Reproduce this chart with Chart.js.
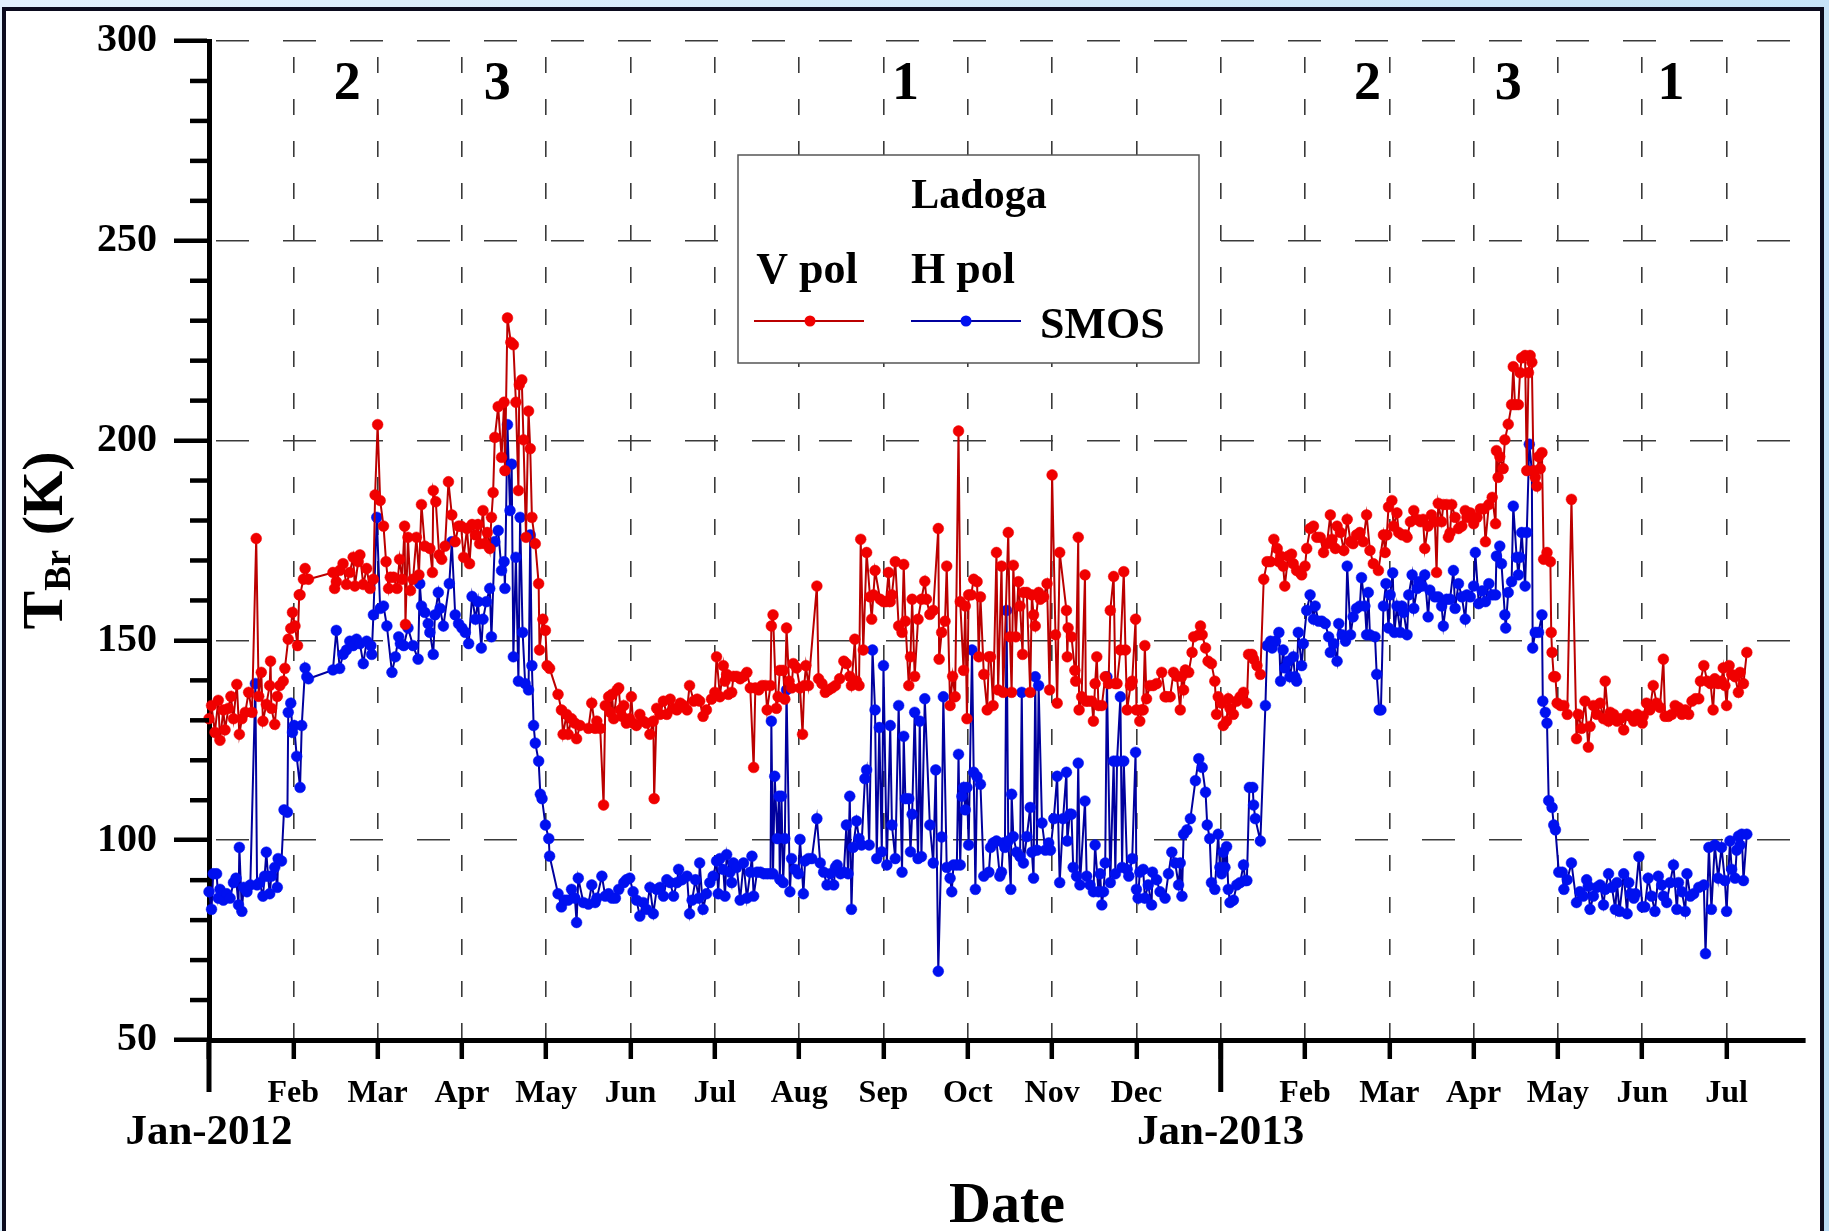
<!DOCTYPE html>
<html>
<head>
<meta charset="utf-8">
<script src="https://cdn.jsdelivr.net/npm/chart.js@4.4.1/dist/chart.umd.min.js"></script>
<style>
  html, body { margin: 0; padding: 0; background: #fff; }
  canvas { display: block; }
</style>
</head>
<body>
<canvas id="tbChart" width="1829" height="1231"></canvas>
<script>
// x values are months counted from 1 Jan 2012 (12 = 1 Jan 2013)
const monthNames = ['Jan', 'Feb', 'Mar', 'Apr', 'May', 'Jun', 'Jul', 'Aug', 'Sep', 'Oct', 'Nov', 'Dec'];
const firstYear = 2012;
const phaseLabels = ['2', '3', '1', '2', '3', '1'];
const phaseMonth = [1.64, 3.42, 8.26, 13.74, 15.41, 17.34];
const legendTitle = 'Ladoga';
const seriesNames = ['V pol', 'H pol'];
const sourceName = 'SMOS';

// [month, Tb (K)]
const vPol = [
  [0.00,130.4],[0.03,133.7],[0.07,127],[0.11,135],[0.13,125],[0.17,132.6],[0.19,127.6],[0.23,133],[0.26,136],[0.29,130.4],
  [0.33,139],[0.36,126.5],[0.39,130.4],[0.43,132],[0.47,137],[0.51,132],[0.56,175.5],[0.59,136],[0.62,142],[0.64,129.8],
  [0.68,134],[0.72,138.7],[0.73,144.8],[0.74,133],[0.78,129],[0.81,136],[0.84,138.7],[0.88,139.8],[0.90,143],[0.94,150.3],
  [0.97,153],[0.99,157],[1.02,153.6],[1.05,148.7],[1.07,161.4],[1.08,161.4],[1.12,165.3],[1.14,168],[1.18,165.3],[1.47,167],
  [1.49,163],[1.51,164.7],[1.55,167.5],[1.59,169.2],[1.63,164],[1.67,167],[1.71,170.8],[1.73,163.6],[1.77,169.7],[1.79,171.4],
  [1.83,164],[1.87,168],[1.91,163],[1.95,165.3],[1.97,186.4],[2.00,204],[2.03,185],[2.07,178.6],[2.10,169.7],[2.13,163],
  [2.15,165.8],[2.19,165.8],[2.23,163],[2.26,170.3],[2.29,165.3],[2.32,178.6],[2.33,154],[2.36,175.8],[2.39,162.5],[2.42,165.3],
  [2.46,175.8],[2.49,166.4],[2.52,184],[2.56,173.6],[2.62,173],[2.65,167],[2.66,187.5],[2.69,184.7],[2.73,171.4],[2.76,170.3],
  [2.80,173.6],[2.84,189.7],[2.88,181.4],[2.92,174.7],[2.96,178.6],[2.99,178.6],[3.02,170.8],[3.06,178],[3.09,169.2],[3.12,179],
  [3.16,176.4],[3.19,179],[3.21,174.2],[3.25,182.5],[3.27,174.2],[3.30,177],[3.33,173],[3.35,180.8],[3.37,187],[3.39,200.8],
  [3.43,208.5],[3.47,195.8],[3.50,209.6],[3.51,192.5],[3.54,230.7],[3.58,224.6],[3.61,224],[3.64,209.6],[3.67,187.5],[3.68,214],
  [3.71,215.2],[3.73,200.2],[3.76,175.8],[3.79,207.4],[3.81,198],[3.83,180.8],[3.87,174.2],[3.91,164.2],[3.92,147.6],[3.96,155.3],
  [3.99,152.5],[4.01,143.7],[4.04,143],[4.14,136.5],[4.18,132.6],[4.20,126.5],[4.24,131.5],[4.26,126.5],[4.30,130.4],[4.34,129.3],
  [4.36,125.4],[4.40,128.7],[4.50,128],[4.54,134.3],[4.58,128],
  [4.60,129.8],[4.64,128],[4.68,108.8],[4.70,133.7],[4.74,135.9],[4.76,132],[4.78,136.5],[4.80,130.4],[4.84,137.6],[4.86,138.1],
  [4.88,132.6],[4.90,131],[4.92,133.7],[4.95,129.3],[4.99,130.4],[5.01,135.9],[5.03,129.3],[5.07,128.7],[5.11,131.5],[5.15,129.8],
  [5.19,129.3],[5.23,126.5],[5.27,129.8],[5.28,110.4],[5.31,133],[5.35,131.5],[5.39,134.8],[5.43,131.5],[5.47,135.3],[5.51,133],
  [5.55,132.6],[5.59,134.3],[5.63,133.7],[5.67,132.6],[5.70,138.7],[5.75,134.8],[5.79,135.3],[5.82,134.8],[5.86,131],[5.90,132.6],
  [5.96,135.3],[6.00,137],[6.02,145.9],[6.06,135.9],[6.10,143.7],[6.12,139.8],[6.14,141.5],[6.16,136.5],[6.20,137],[6.22,141],
  [6.26,141],[6.30,140.4],[6.34,141],[6.38,142],[6.42,138.1],[6.46,118.2],[6.48,138.1],[6.52,137.6],[6.56,138.7],[6.60,138.7],
  [6.62,132.6],[6.66,138.7],[6.67,153.6],[6.69,156.4],[6.73,133],[6.75,135.9],[6.77,142.5],[6.81,142.5],[6.83,135.3],[6.85,153.1],
  [6.88,139.8],[6.91,138.1],[6.93,144.2],[6.97,143.1],[7.01,138.1],[7.04,126.5],[7.06,138.7],[7.08,143.7],[7.11,138.7],[7.21,163.6],
  [7.23,140.4],[7.27,139.2],[7.31,137],[7.35,137.6],[7.39,138.1],[7.43,138.7],[7.48,140.4],[7.53,144.8],[7.56,144.2],[7.60,141],
  [7.62,138.7],[7.66,150.3],[7.68,139.8],[7.71,138.7],[7.73,175.3],[7.76,147.6],[7.80,172],[7.84,160.9],[7.86,155.3],[7.88,161.4],
  [7.90,167.5],[7.96,160.3],[8.00,159.7],[8.03,159.7],[8.06,167],[8.08,159.7],[8.10,161.4],[8.14,169.7],[8.18,153.6],[8.22,152],
  [8.24,169],[8.26,154.8],[8.30,138.7],[8.32,145.9],[8.34,160.3],[8.37,141],[8.41,155.3],[8.45,160.3],[8.49,164.8],[8.51,160.3],
  [8.55,156.5],[8.59,157.5],[8.65,178],[8.66,145.3],[8.69,152],[8.73,154.8],[8.75,168.6],[8.79,133.7],[8.82,141],[8.85,135.9],
  [8.89,202.4],[8.91,159.7],[8.95,142.5],[8.97,158.6],[8.99,130.4],[9.01,161.4],[9.04,161.4],[9.07,165.3],[9.11,164.7],[9.13,145.9],
  [9.15,160.9],[9.19,141.5],[9.23,132.6],[9.25,145.9],
  [9.27,145.9],[9.30,133.7],[9.34,172],[9.36,137.6],[9.40,168.6],[9.42,137],[9.48,177],[9.50,150.9],[9.52,137],[9.54,168.8],
  [9.57,150.9],[9.60,164.7],[9.62,158.6],[9.65,146.5],[9.66,162],[9.70,162],[9.74,137],[9.76,161.4],[9.78,156.4],[9.80,153.6],
  [9.84,162],[9.86,160.3],[9.90,160.9],[9.94,164.2],[9.97,137.6],[10.00,191.4],[10.04,151.4],[10.06,134.3],[10.09,172],[10.17,157.5],
  [10.18,145.9],[10.19,153.1],[10.23,150.9],[10.27,142.5],[10.28,139.8],[10.31,175.8],[10.32,132.6],[10.35,135.9],[10.39,166.4],[10.40,134.8],
  [10.43,134.8],[10.47,134.8],[10.49,129.8],[10.51,139.2],[10.53,145.9],[10.55,133.7],[10.59,133.7],[10.63,140.9],[10.67,139.2],[10.69,157.5],
  [10.73,166],[10.75,139.2],[10.77,139.2],[10.81,147.6],[10.85,167.2],[10.87,147.6],[10.89,132.6],[10.93,138.7],[10.95,139.8],[10.99,155.3],
  [11.00,132.6],[11.04,129.8],[11.06,132.6],[11.08,132.6],[11.10,148.7],[11.12,135.4],[11.16,138.7],[11.20,138.7],[11.24,139.2],[11.30,142],
  [11.34,135.9],[11.36,135.9],[11.40,135.9],[11.44,142],[11.48,141],[11.52,132.6],[11.54,141],[11.56,137.6],[11.58,142.6],[11.62,142],
  [11.66,147],[11.68,150.9],[11.74,151.4],[11.76,153.6],[11.78,151.4],[11.82,148.1],[11.85,144.8],[11.89,144.2],[11.93,139.8],[11.95,131.5],
  [11.97,135.9],[12.01,134.3],[12.03,128.7],[12.07,129.8],[12.09,135.4],[12.11,133],[12.15,131.5],[12.19,134.8],[12.23,135.9],[12.27,137],
  [12.31,134.3],[12.33,146.5],[12.37,146.5],[12.39,145.3],[12.43,143.7],[12.47,141.5],[12.51,165.3],[12.55,169.7],[12.59,169.7],[12.63,175.3],
  [12.67,173],[12.69,169.7],[12.71,171.1],[12.74,168.6],[12.76,163.6],[12.80,171.1],[12.84,171.6],[12.86,169.2],[12.90,167.5],[12.94,167],
  [12.96,166.4],[13.00,168.6],[13.02,173],[13.06,178],[13.10,178.6],[13.14,175.8],[13.18,175.8],[13.22,172],[13.26,174.2],[13.30,181.4],
  [13.32,175.3],[13.36,173],[13.38,178.6],[13.42,177],[13.46,172.5],[13.50,180.3],[13.54,174.7],[13.57,174.2],[13.61,176.4],[13.65,177],
  [13.69,174.7],[13.73,181.4],[13.77,172.5],[13.81,169.2],[13.87,167.5],
  [13.93,176.4],[13.95,172],[13.97,176.4],[13.99,183.4],[14.03,185],[14.05,178.6],[14.09,181.9],[14.11,177],[14.15,176.4],[14.19,176.4],
  [14.21,175.8],[14.25,179.7],[14.29,182.5],[14.33,180.3],[14.37,179.7],[14.40,180.3],[14.42,173],[14.46,178.6],[14.50,181.4],[14.54,179.7],
  [14.56,167],[14.58,184.3],[14.62,179.7],[14.64,184],[14.68,184],[14.70,175.8],[14.72,176.9],[14.74,184],[14.78,180.8],[14.82,178],
  [14.86,178.6],[14.90,182.5],[14.92,180.8],[14.96,181.9],[15.00,179.2],[15.04,180.8],[15.08,182.9],[15.12,182.9],[15.14,174.7],[15.18,184],
  [15.22,185.8],[15.26,179.2],[15.27,197.5],[15.29,190.8],[15.31,196],[15.35,193],[15.37,200.2],[15.41,204.1],[15.45,209],[15.47,218.5],
  [15.49,209],[15.53,209],[15.55,217],[15.57,220.7],[15.61,221.3],[15.63,192.5],[15.65,217],[15.67,221.3],[15.69,219.6],[15.71,192.5],
  [15.73,190.8],[15.75,188.6],[15.77,196],[15.79,193],[15.81,197],[15.83,170.3],[15.87,172],[15.91,169.7],[15.92,152],[15.93,147],
  [15.95,140.9],[15.97,140.9],[15.99,134.3],[16.03,133.7],[16.07,133.7],[16.11,131.5],[16.16,185.3],[16.22,125.4],[16.24,131.5],[16.28,128],
  [16.32,134.8],[16.36,123.3],[16.38,128.5],[16.42,133.7],[16.46,131.5],[16.50,134.3],[16.54,130.4],[16.56,139.8],[16.60,129.8],[16.62,132],
  [16.66,131.5],[16.70,129.8],[16.74,130.4],[16.78,127.6],[16.82,131.5],[16.86,131],[16.90,129.8],[16.94,131.5],[17.00,129.3],[17.01,131],
  [17.05,134.3],[17.09,132.6],[17.13,138.7],[17.17,134.3],[17.21,133.2],[17.25,145.3],[17.27,131],[17.31,131],[17.35,131.5],[17.39,133.7],
  [17.43,133.2],[17.47,131.5],[17.51,132.6],[17.55,131.5],[17.59,134.8],[17.63,135.4],[17.67,135.4],[17.69,139.8],[17.73,143.7],[17.77,139.8],
  [17.81,139.2],[17.84,132.6],[17.86,140.4],[17.90,139.2],[17.94,139.8],[17.96,143.1],[17.98,138.7],[18.00,133.7],[18.03,143.7],[18.06,141.5],
  [18.10,140.9],[18.14,137],[18.16,142],[18.20,139.2],[18.24,147]
];

const hPol = [
  [0.00,87.1],[0.03,82.7],[0.05,91.6],[0.09,91.6],[0.11,85.5],[0.13,87.7],[0.17,85],[0.21,86.6],[0.25,85.5],[0.29,89.4],
  [0.32,90.5],[0.35,83.8],[0.36,98.2],[0.39,82.2],[0.41,88.2],[0.45,87.1],[0.49,88.8],[0.55,139.2],[0.57,88.8],[0.60,89.4],
  [0.64,86],[0.66,91],[0.68,97],[0.70,91],[0.72,86.6],[0.74,91],[0.78,93.2],[0.81,88.2],[0.82,95.4],[0.86,94.8],
  [0.89,107.6],[0.93,107],[0.94,132],[0.97,134.3],[0.99,127],[1.01,128.7],[1.04,121],[1.08,113.2],[1.10,128.7],[1.14,143.1],
  [1.16,140.9],[1.18,140.4],[1.47,142.6],[1.51,152.5],[1.55,143],[1.59,146.5],[1.63,147.6],[1.67,149.8],[1.71,148.7],[1.75,150.3],
  [1.79,149.2],[1.83,144.2],[1.87,149.8],[1.92,148.7],[1.93,146.5],[1.95,156.4],[1.99,180.8],[2.03,158],[2.07,158.6],[2.11,153.6],
  [2.17,142],[2.21,145.9],[2.25,150.9],[2.27,149.2],[2.31,148.7],[2.36,153.1],[2.42,148.7],[2.48,145.3],[2.50,164.2],[2.52,158.6],
  [2.56,157],[2.60,154.2],[2.62,152],[2.66,146.5],[2.68,156.4],[2.72,162],[2.74,158],[2.78,153.6],[2.85,164.2],[2.88,174.7],
  [2.92,156.4],[2.96,154.2],[3.00,153.1],[3.04,152],[3.08,149.2],[3.12,161],[3.16,155.3],[3.19,159.7],[3.23,148.1],[3.25,155.3],
  [3.29,159.7],[3.33,163],[3.35,150.9],[3.39,174.7],[3.43,177.5],[3.47,167.5],[3.50,169.7],[3.51,163],[3.54,204],[3.57,182.5],
  [3.59,194.1],[3.61,145.9],[3.64,170.8],[3.67,139.8],[3.69,180.8],[3.72,152],[3.75,139.2],[3.79,137.6],[3.81,176.4],[3.83,143.7],
  [3.85,128.7],[3.87,124.3],[3.91,119.8],[3.93,111.5],[3.95,110.4],[3.99,103.8],[4.03,100.4],[4.04,96],[4.14,86.6],[4.18,83.3],
  [4.22,85],[4.26,85],[4.30,87.7],[4.34,85.5],[4.36,79.4],[4.38,90.5],[4.44,84.4],[4.50,84],[4.54,88.8],[4.58,84.4],
  [4.60,85.5],[4.66,91],[4.70,86],[4.74,86.6],[4.78,85.5],[4.82,85.5],[4.86,87.7],[4.92,89.4],[4.95,90.1],[4.99,90.5],
  [5.03,87.1],[5.07,85],[5.11,81],[5.15,84.4],[5.19,82.7],[5.23,88.2],[5.27,81.6],[5.31,87.7],[5.35,88.2],[5.39,86],
  [5.43,90.1],[5.47,89.4],[5.51,86],[5.55,89.4],[5.57,92.7],[5.61,90.1],[5.67,91],[5.70,81.6],[5.73,85],[5.77,90.1],
  [5.81,85.5],[5.82,94.3],[5.86,82.7],[5.90,86.6],[5.94,89.4],[5.98,91],[6.02,94.8],[6.04,86.6],[6.06,95.4],[6.10,92.7],
  [6.12,86],[6.14,96.4],[6.18,92],[6.20,89.4],[6.22,94.3],[6.26,93.2],[6.30,85],[6.34,94.3],[6.38,85.5],[6.42,92],
  [6.44,96],[6.46,86],[6.50,92],[6.54,92],[6.58,91.6],[6.62,91.6],[6.66,91.6],[6.67,129.8],[6.69,91.6],[6.71,116],
  [6.74,100.4],[6.76,111],[6.77,90.2],[6.79,111],[6.81,89.4],[6.83,100.4],[6.85,137.6],[6.89,87.1],[6.91,95.4],[6.95,92.7],
  [6.99,91.6],[7.01,100.2],[7.05,86.6],[7.07,94.8],[7.11,95.4],[7.15,95.4],[7.21,105.4],[7.25,94.3],[7.29,92],[7.33,88.8],
  [7.37,91.6],[7.41,88.8],[7.43,93.2],[7.45,93.8],[7.49,91.6],[7.53,92],[7.56,103.8],[7.58,91.6],[7.60,111],[7.62,82.7],
  [7.64,98.2],[7.68,104.8],[7.71,100.4],[7.74,98.8],[7.78,115.4],[7.80,117.6],[7.83,98.8],[7.87,147.6],[7.90,132.6],[7.92,95.4],
  [7.95,128.2],[7.98,97.1],[8.00,143.7],[8.04,93.8],[8.08,128.7],[8.10,103.8],[8.14,95.4],[8.18,133.7],[8.22,92],[8.24,126],
  [8.26,110.4],[8.30,110.4],[8.32,97.1],[8.34,106.5],[8.37,132],[8.41,95.4],[8.43,129.8],[8.45,95.9],[8.49,135.4],[8.55,103.8],
  [8.59,94.3],[8.62,117.6],[8.65,67.2],[8.69,100.8],[8.71,135.9],[8.75,93.2],[8.79,90.5],[8.81,87.1],[8.83,93.8],[8.87,93.8],
  [8.89,121.5],[8.91,93.8],[8.93,111],[8.95,113.2],[8.97,107.6],[8.99,113.2],[9.01,98.8],[9.05,147.6],[9.07,117],[9.09,87.7],
  [9.11,115.9],[9.15,114],[9.19,91],[9.25,92],
  [9.27,98.2],[9.30,99.3],[9.34,99.8],[9.38,91],[9.40,92],[9.42,99.3],[9.44,98.2],[9.46,157.5],[9.48,99.8],[9.51,87.7],
  [9.52,111.5],[9.54,100.9],[9.58,97],[9.62,95.9],[9.64,137],[9.66,94.3],[9.70,100.9],[9.74,108.2],[9.76,97],[9.78,90.5],
  [9.80,140.9],[9.82,97.5],[9.84,138.7],[9.88,104.3],[9.92,97.5],[9.96,99.3],[9.98,97.5],[10.02,105.4],[10.06,116],[10.09,89.4],
  [10.13,105.4],[10.17,117],[10.18,99.8],[10.21,106.5],[10.23,106.5],[10.25,93.2],[10.29,91],[10.31,119.3],[10.33,88.8],[10.39,109.8],
  [10.41,91],[10.45,88.8],[10.49,87.1],[10.51,98.8],[10.55,87.1],[10.57,91.6],[10.59,83.8],[10.61,87.1],[10.63,94.3],[10.65,140.9],
  [10.69,89.4],[10.73,119.8],[10.75,91.6],[10.77,119.8],[10.81,135.9],[10.83,93.2],[10.85,119.8],[10.89,92.7],[10.91,91],[10.95,95.4],
  [10.99,122],[11.00,87.7],[11.02,85.5],[11.04,92],[11.08,92.7],[11.10,85.5],[11.14,88.8],[11.18,83.8],[11.19,92],[11.24,90.1],
  [11.28,87.1],[11.34,85.5],[11.38,91.6],[11.42,97],[11.46,94.3],[11.50,88.8],[11.52,94.3],[11.54,86],[11.56,101.5],[11.60,102.6],
  [11.64,105.4],[11.70,114.9],[11.74,120.4],[11.78,118.2],[11.82,112],[11.84,103.8],[11.87,100.4],[11.89,89.4],[11.93,87.7],[11.97,101.5],
  [11.99,93.2],[12.01,91.6],[12.03,97],[12.05,93.2],[12.07,98.4],[12.09,87.7],[12.11,84.4],[12.15,85],[12.19,88.8],[12.23,89.4],
  [12.27,93.8],[12.29,89.9],[12.31,89.9],[12.34,113.2],[12.38,113.2],[12.39,108.8],[12.41,105.4],[12.47,99.8],[12.53,133.7],[12.55,148.7],
  [12.59,149.8],[12.61,148.1],[12.65,149.8],[12.69,152],[12.71,139.8],[12.74,147.6],[12.76,143.1],[12.80,144.8],[12.82,140.9],[12.86,145.9],
  [12.88,140.9],[12.90,139.8],[12.92,152],[12.96,143.7],[12.98,149.2],[13.02,157.5],[13.06,161.4],[13.10,155.3],[13.12,158.6],[13.16,154.8],
  [13.20,154.8],[13.24,154.2],[13.28,150.9],[13.30,147],[13.34,149.2],[13.38,144.8],[13.40,154.2],[13.44,151.4],[13.48,149.8],[13.50,168.6],
  [13.54,151.4],[13.57,155.9],[13.61,158],[13.65,158.6],[13.67,165.7],[13.71,158.6],[13.73,151.4],[13.75,162],[13.77,151.4],[13.83,150.9],
  [13.85,141.5],[13.88,132.6],
  [13.90,132.6],[13.93,158.6],[13.96,164.2],[13.99,153.1],[14.01,161.4],[14.04,166.9],[14.06,152],[14.09,158.6],[14.13,152],[14.15,158.6],
  [14.17,157],[14.21,151.4],[14.23,161.4],[14.27,166.4],[14.29,158],[14.33,163],[14.35,164.7],[14.39,163.6],[14.42,166.4],[14.46,155.9],
  [14.48,162.6],[14.54,160.9],[14.58,160.9],[14.62,158.6],[14.64,153.6],[14.68,160.3],[14.72,160.3],[14.76,167.5],[14.78,158],[14.82,164.2],
  [14.86,160.9],[14.90,155.3],[14.92,161.4],[14.96,160.9],[15.00,163.6],[15.02,172],[15.06,159.2],[15.10,162.4],[15.14,159.7],[15.18,164.2],
  [15.22,161.4],[15.26,161.4],[15.27,171.1],[15.31,173.6],[15.33,169.2],[15.37,156.4],[15.38,153.1],[15.41,162],[15.45,164.7],[15.47,183.6],
  [15.51,170.8],[15.53,166.4],[15.55,170.8],[15.57,177],[15.61,163.6],[15.63,177],[15.66,199.1],[15.69,192.5],[15.70,148.1],[15.73,152],
  [15.77,152],[15.81,156.4],[15.82,134.8],[15.85,132],[15.87,129.3],[15.89,109.9],[15.93,108.2],[15.95,103.8],[15.97,102.6],[16.01,92],
  [16.05,92],[16.07,87.7],[16.11,90.1],[16.16,94.3],[16.22,84.4],[16.26,87.1],[16.30,86],[16.34,90.1],[16.36,88.5],[16.38,82.7],
  [16.42,86],[16.46,88.2],[16.50,88.8],[16.54,83.8],[16.56,87.7],[16.60,91.6],[16.64,88.2],[16.68,82.7],[16.70,89.4],[16.73,82.2],
  [16.78,91.6],[16.82,81.6],[16.84,89.4],[16.86,86.6],[16.90,85.5],[16.92,86.6],[16.96,95.9],[17.00,83.3],[17.03,83.3],[17.07,90.5],
  [17.11,86],[17.15,82.2],[17.19,91],[17.23,88.8],[17.25,86],[17.29,84.4],[17.33,89.4],[17.37,93.8],[17.41,82.7],[17.43,89.4],
  [17.47,87.1],[17.51,82.2],[17.53,91.6],[17.57,86],[17.61,86.6],[17.67,88.2],[17.73,88.8],[17.75,71.6],[17.79,98.2],[17.82,82.7],
  [17.86,98.8],[17.90,90.5],[17.94,98.2],[17.98,89.9],[18.00,82.2],[18.04,99.8],[18.06,92.7],[18.10,90.5],[18.12,97.5],[18.14,101],
  [18.16,98.8],[18.18,101.5],[18.20,89.9],[18.24,101.5]
];

const FONT = '"Liberation Serif", "Times New Roman", serif';
const RED_LINE = '#bb0000', RED_DOT = '#f00000';
const BLUE_LINE = '#00009e', BLUE_DOT = '#0010f0';

const decor = {
  id: 'decor',
  beforeDraw(chart) {
    const ctx = chart.ctx;
    const W = chart.width, H = chart.height;
    ctx.save();
    const g = ctx.createLinearGradient(0, 0, W, H);
    g.addColorStop(0, '#e2f0fd');
    g.addColorStop(1, '#b9dcf6');
    ctx.fillStyle = g;
    ctx.fillRect(0, 0, W, H);
    ctx.fillStyle = '#fff';
    ctx.fillRect(4, 9, 1818, H);
    ctx.strokeStyle = '#0b0b1e';
    ctx.lineWidth = 4;
    ctx.strokeRect(4, 9, 1818, H + 20);
    ctx.restore();
  },
  afterDraw(chart) {
    const { ctx, chartArea: a, scales: { x, y } } = chart;
    ctx.save();
    ctx.strokeStyle = '#000';

    // minor ticks on the Tb axis
    ctx.lineWidth = 4.5;
    for (let v = y.min + 10; v < y.max; v += 10) {
      if (v % 50 === 0) continue;
      const py = y.getPixelForValue(v);
      ctx.beginPath();
      ctx.moveTo(a.left - 19, py);
      ctx.lineTo(a.left, py);
      ctx.stroke();
    }

    // long ticks at each January
    ctx.lineWidth = 5;
    for (let m = 0; m <= x.max; m += 12) {
      const px = x.getPixelForValue(m);
      ctx.beginPath();
      ctx.moveTo(px, a.bottom);
      ctx.lineTo(px, a.bottom + 52);
      ctx.stroke();
    }

    ctx.fillStyle = '#000';

    // ice phase labels
    ctx.font = `bold 54px ${FONT}`;
    ctx.textAlign = 'center';
    ctx.textBaseline = 'alphabetic';
    phaseLabels.forEach((t, i) => {
      ctx.fillText(t, x.getPixelForValue(phaseMonth[i]), a.top + 58);
    });

    // legend box
    const bx = 738, by = 155, bw = 461, bh = 208;
    ctx.fillStyle = '#fff';
    ctx.fillRect(bx, by, bw, bh);
    ctx.strokeStyle = '#555';
    ctx.lineWidth = 1.5;
    ctx.strokeRect(bx, by, bw, bh);
    ctx.fillStyle = '#000';
    ctx.font = `bold 42px ${FONT}`;
    ctx.fillText(legendTitle, 979, 208);
    ctx.font = `bold 44px ${FONT}`;
    ctx.fillText(seriesNames[0], 807, 283);
    ctx.fillText(seriesNames[1], 963, 283);
    ctx.textAlign = 'left';
    ctx.fillText(sourceName, 1040, 338);
    const sample = (x1, x2, xd, line, dot) => {
      ctx.strokeStyle = line;
      ctx.lineWidth = 2;
      ctx.beginPath();
      ctx.moveTo(x1, 321);
      ctx.lineTo(x2, 321);
      ctx.stroke();
      ctx.fillStyle = dot;
      ctx.beginPath();
      ctx.arc(xd, 321, 5.5, 0, Math.PI * 2);
      ctx.fill();
    };
    sample(754, 864, 810, RED_LINE, RED_DOT);
    sample(911, 1021, 966, BLUE_LINE, BLUE_DOT);

    // axis titles
    ctx.fillStyle = '#000';
    ctx.textAlign = 'center';
    ctx.font = `bold 58px ${FONT}`;
    ctx.fillText('Date', (a.left + a.right) / 2, 1222);

    ctx.translate(62, (a.top + a.bottom) / 2);
    ctx.rotate(-Math.PI / 2);
    ctx.textAlign = 'left';
    ctx.font = `bold 58px ${FONT}`;
    const wT = ctx.measureText('T').width;
    const wK = ctx.measureText(' (K)').width;
    ctx.font = `bold 37px ${FONT}`;
    const wS = ctx.measureText('Br').width;
    const sx = -(wT + wS + wK) / 2;
    ctx.font = `bold 58px ${FONT}`;
    ctx.fillText('T', sx, 0);
    ctx.font = `bold 37px ${FONT}`;
    ctx.fillText('Br', sx + wT, 8);
    ctx.font = `bold 58px ${FONT}`;
    ctx.fillText(' (K)', sx + wT + wS, 0);
    ctx.restore();
  }
};

const toXY = arr => arr.map(p => ({ x: p[0], y: p[1] }));

new Chart(document.getElementById('tbChart'), {
  type: 'line',
  data: {
    datasets: [
      {
        label: seriesNames[0],
        data: toXY(vPol),
        borderColor: RED_LINE,
        backgroundColor: RED_DOT,
        pointBackgroundColor: RED_DOT,
        pointBorderColor: RED_DOT,
        borderWidth: 2,
        pointRadius: 5.4,
        pointBorderWidth: 0.5,
        tension: 0,
        clip: false
      },
      {
        label: seriesNames[1],
        data: toXY(hPol),
        borderColor: BLUE_LINE,
        backgroundColor: BLUE_DOT,
        pointBackgroundColor: BLUE_DOT,
        pointBorderColor: BLUE_DOT,
        borderWidth: 2,
        pointRadius: 5.4,
        pointBorderWidth: 0.5,
        tension: 0,
        clip: false
      }
    ]
  },
  options: {
    responsive: false,
    animation: false,
    devicePixelRatio: 1,
    layout: { padding: { left: 0, top: 34, right: 24, bottom: 0 } },
    plugins: {
      legend: { display: false },
      tooltip: { enabled: false }
    },
    scales: {
      x: {
        type: 'linear',
        min: 0,
        max: 18.93,
        afterFit: s => { s.height = 191; },
        ticks: {
          stepSize: 1,
          autoSkip: false,
          includeBounds: false,
          maxRotation: 0,
          minRotation: 0,
          padding: 16,
          color: '#000',
          font: c => (c.tick && c.tick.value % 12 === 0)
            ? { family: FONT, size: 43, weight: 'bold', lineHeight: 0.9 }
            : { family: FONT, size: 32, weight: 'bold', lineHeight: 1.2 },
          callback: v => v % 12 === 0 ? ['', 'Jan-' + (firstYear + v / 12)] : monthNames[v % 12]
        },
        grid: { color: '#3a3a3a', lineWidth: 1.6, tickLength: 19, tickWidth: 4.5, tickColor: '#000' },
        border: { color: '#000', width: 5, dash: [16, 26], dashOffset: 26 }
      },
      y: {
        min: 50,
        max: 300,
        afterFit: s => { s.width = 209; },
        ticks: {
          stepSize: 50,
          padding: 17,
          color: '#000',
          font: { family: FONT, size: 40, weight: 'bold' }
        },
        grid: { color: '#3a3a3a', lineWidth: 1.6, tickLength: 35, tickWidth: 4.5, tickColor: '#000' },
        border: { color: '#000', width: 5, dash: [33, 34], dashOffset: 63 }
      }
    }
  },
  plugins: [decor]
});
</script>
</body>
</html>
